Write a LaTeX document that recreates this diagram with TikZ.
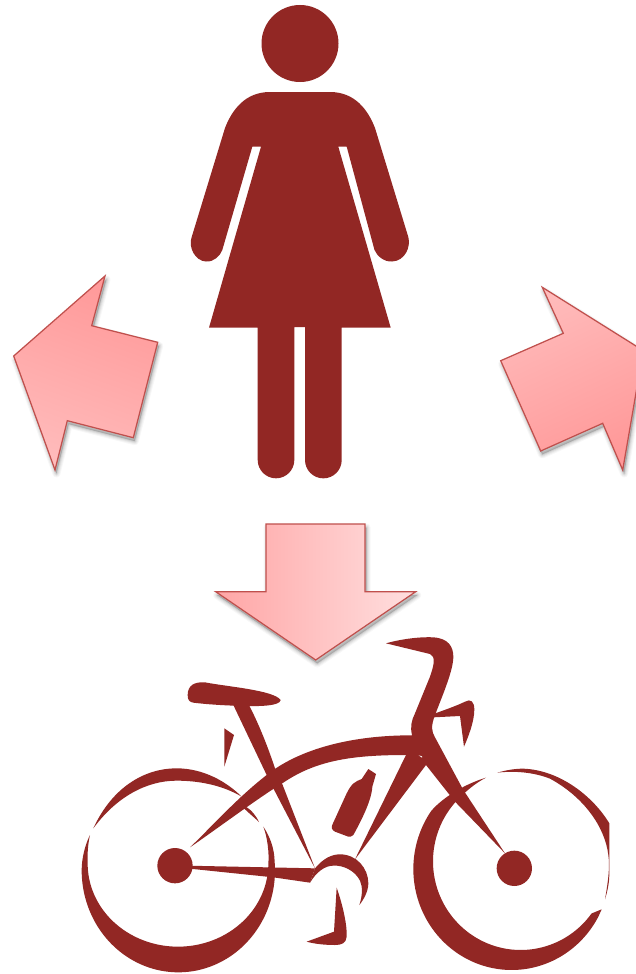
\documentclass[tikz,border=0pt]{standalone}
\definecolor{bikered}{HTML}{922724}
\definecolor{arrowline}{HTML}{C0504D}
\definecolor{ffb8}{HTML}{FFBBBB}
\definecolor{ff9a}{HTML}{FF9999}
\definecolor{ffa}{HTML}{FFA6A6}
\definecolor{ffe}{HTML}{FFDFDF}
\tikzset{
  bikefill/.style={fill=bikered,draw=none},
  arrowedge/.style={draw=arrowline,line width=1.25pt,line join=miter},
}
\newcommand{\softshadow}[1]{%
  \begin{scope}[shift={(1.5,3.5)}]
    \foreach \w/\o in {8/.03,6/.04,4/.05,2/.07}{
      \fill[black,opacity=\o] #1;
      \draw[black,opacity=\o,line width=\w pt,line join=round] #1;
    }
  \end{scope}}
\newcommand{\arrowL}{(105,276) -- (91.7,325.7) -- (157.7,342.3) -- (133.3,437.7) -- (67.3,420.7) -- (55,470) -- (13.7,356) -- cycle}
\newcommand{\arrowR}{(542.3,287.3) -- (563.3,333.3) -- (500.7,360.7) -- (540.7,451) -- (602.7,423.3) -- (622.7,470) -- (643.3,350.6) -- cycle}
\newcommand{\arrowD}{(266,524) -- (365,524) -- (365,591.7) -- (415.7,591.7) -- (315.7,660) -- (215.7,591.7) -- (266,591.7) -- cycle}
\begin{document}
\begin{tikzpicture}[x=1pt,y=-1pt]
\useasboundingbox (0,0) rectangle (636,974);
\fill[white] (0,0) rectangle (636,974);
\clip (0,0) rectangle (636,974);

% arrows
\softshadow{\arrowL}
\path[shading=axis,left color=ff9a,right color=ffb8,shading angle=-20,arrowedge] \arrowL;
\softshadow{\arrowR}
\path[shading=axis,left color=ffb8,right color=ff9a,shading angle=25,arrowedge] \arrowR;
\softshadow{\arrowD}
\path[shading=axis,left color=ffa,right color=ffe,arrowedge] \arrowD;

% woman
\fill[bikefill] (300,43.5) circle (38.5);
\fill[bikefill] (270,92) -- (330,92)
  .. controls (355,92) and (368,110) .. (375,128)
  -- (408.3,237)
  .. controls (411,247) and (405,261) .. (392,261.5)
  .. controls (384,262) and (377,256) .. (374.5,250)
  -- (346.7,146.7) -- (338.3,146.7) -- (390.7,327.7) -- (341.7,327.7)
  -- (341.7,460) arc (0:180:18.35) -- (305,327) -- (294.3,327) -- (294.3,460) arc (0:180:18.3)
  -- (257.7,327.7) -- (209,327.7) -- (261,146.7) -- (252.3,146.7)
  -- (222.3,250)
  .. controls (220,256) and (214,262) .. (206,261.5)
  .. controls (195,261) and (188,247) .. (191.7,237)
  -- (225,128)
  .. controls (232,110) and (245,92) .. (270,92) -- cycle;

% bicycle (coordinates are those of a 3x view)
\begin{scope}[shift={(60,620)},scale=1/3]
  % saddle
  \fill[bikefill] (383,225) .. controls (383,195) and (405,185) .. (435,187)
    .. controls (500,200) and (640,210) .. (662,240)
    .. controls (660,258) and (600,259) .. (560,258)
    .. controls (500,257) and (440,253) .. (400,248)
    .. controls (388,246) and (383,240) .. (383,225) -- cycle;
  % saddle bag sliver
  \fill[bikefill] (493,325) -- (522,345) -- (493,440) -- cycle;
  % seat tube
  \fill[bikefill] (520,255) -- (568,257) .. controls (600,320) and (625,385) .. (645,445) -- (668,495) -- (765,745) -- (640,505) -- (620,465) -- cycle;
  % arch top tube
  \fill[bikefill] (390,682) .. controls (450,625) and (530,535) .. (620,465)
    .. controls (720,385) and (880,345) .. (1060,346)
    -- (1060,405) -- (1040,405)
    .. controls (880,405) and (770,420) .. (670,488)
    .. controls (600,530) and (480,620) .. (390,682) -- cycle;
  % rear wheel, upper crescent
  \fill[bikefill] (100,625) .. controls (155,505) and (250,445) .. (350,445)
    .. controls (430,445) and (500,485) .. (545,530)
    .. controls (490,497) and (420,482) .. (350,482)
    .. controls (260,482) and (170,530) .. (100,625) -- cycle;
  % rear wheel, small sliver
  \fill[bikefill] (555,558) .. controls (575,570) and (590,590) .. (597,606) .. controls (580,590) and (565,578) .. (552,565) -- cycle;
  % rear wheel, main crescent
  \fill[bikefill] plot[domain=180:-5,samples=90,variable=\t] ({355+290*cos(\t)},{751+306*sin(\t)})
    .. controls (643,685) and (630,650) .. (610,620)
    .. controls (622,650) and (628,700) .. (625,731)
    -- plot[domain=0:180,samples=90,variable=\t] ({354+271*cos(\t)},{731+249*sin(\t)})
    .. controls (82,705) and (83,675) .. (90,645)
    .. controls (75,675) and (65,715) .. (65,751) -- cycle;
  % rear hub
  \fill[bikefill] (345,737) circle (53);
  % chain stay
  \fill[bikefill] (380,737) -- (765,745) -- (750,788) -- (640,772) -- (380,745) -- cycle;
  % chainring arc
  \fill[bikefill] (750,788) -- (765,745) .. controls (790,715) and (815,703) .. (840,703)
    .. controls (890,703) and (925,745) .. (925,790)
    .. controls (925,815) and (910,840) .. (898,855)
    .. controls (908,825) and (908,800) .. (900,782)
    .. controls (885,752) and (850,735) .. (820,737)
    .. controls (795,737) and (770,755) .. (750,788) -- cycle;
  % crank and pedal
  \fill[bikefill] (830,803) .. controls (850,860) and (862,920) .. (860,950)
    .. controls (858,970) and (845,975) .. (825,975)
    .. controls (795,975) and (765,972) .. (740,965) -- (822,935) -- cycle;
  % bottle
  \fill[bikefill] (925,447) -- (948,462) -- (937,500)
    .. controls (935,540) and (905,600) .. (880,645)
    .. controls (875,652) and (868,650) .. (865,650)
    -- (825,635) .. controls (815,630) and (813,622) .. (818,612)
    -- (860,520) .. controls (875,490) and (885,485) .. (905,477) -- cycle;
  % front wheel, upper crescent
  \fill[bikefill] (1312,458) .. controls (1340,450) and (1365,446) .. (1390,446)
    .. controls (1500,450) and (1600,530) .. (1648,610)
    -- (1648,760) .. controls (1648,790) and (1642,815) .. (1635,838)
    .. controls (1645,780) and (1650,740) .. (1645,705)
    .. controls (1635,620) and (1570,530) .. (1470,476)
    .. controls (1420,456) and (1360,452) .. (1312,458) -- cycle;
  % front wheel, main crescent
  \fill[bikefill] (1625,868) -- plot[domain=28:215,samples=90,variable=\t] ({1355+295*cos(\t)},{747+303*sin(\t)})
    .. controls (1150,530) and (1220,490) .. (1278,473)
    .. controls (1245,490) and (1220,512) .. (1196,536)
    -- plot[domain=225:36,samples=90,variable=\t] ({1382+263*cos(\t)},{724+266*sin(\t)}) -- cycle;
  % brake lever
  \fill[bikefill] (1120,282) .. controls (1160,268) and (1195,255) .. (1215,245)
    .. controls (1232,235) and (1243,245) .. (1243,268)
    .. controls (1243,305) and (1225,350) .. (1212,380) -- (1200,288) -- (1120,292) -- cycle;
  % front hub
  \fill[bikefill] (1363,745) circle (53);
  % handlebar, fork and down tube
  \fill[bikefill] (978,70)
    .. controls (1030,55) and (1090,50) .. (1120,52)
    .. controls (1165,55) and (1180,80) .. (1180,110)
    .. controls (1180,150) and (1150,220) .. (1125,285)
    .. controls (1112,320) and (1115,335) .. (1125,352)
    -- (1210,510) -- (1335,700) -- (1185,545) -- (1098,435) -- (885,718) -- (1038,405) -- (1056,345)
    .. controls (1050,320) and (1055,300) .. (1065,280)
    -- (1110,170)
    .. controls (1122,135) and (1128,110) .. (1110,102)
    -- cycle;
  % tiny highlight in the head joint
  \fill[white] (1076,406) -- (1086,409) -- (1086,413) -- cycle;
\end{scope}
\end{tikzpicture}
\end{document}
